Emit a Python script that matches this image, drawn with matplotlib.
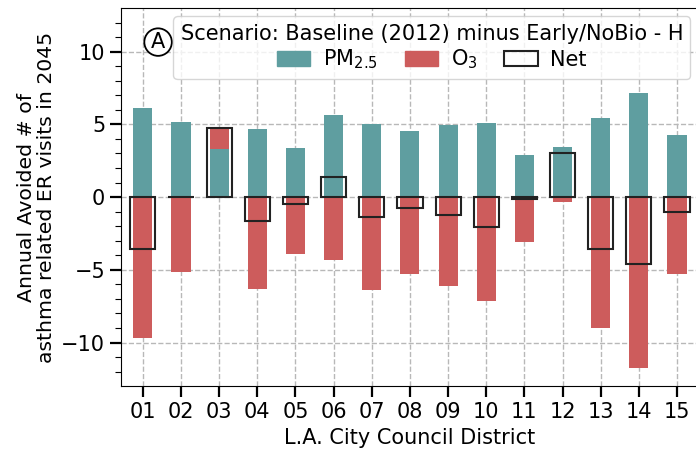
import numpy as np
import matplotlib
matplotlib.use("Agg")
import matplotlib.pyplot as plt
from matplotlib.patches import Patch

# Avoided asthma ER visits by council district (Baseline 2012 minus Early/NoBio - H)
districts = ["01", "02", "03", "04", "05", "06", "07", "08",
             "09", "10", "11", "12", "13", "14", "15"]
pm25 = [6.12, 5.19, 3.29, 4.67, 3.40, 5.66, 5.01, 4.57,
        4.94, 5.12, 2.90, 3.43, 5.43, 7.15, 4.28]
o3 = [-9.68, -5.15, 1.45, -6.30, -3.89, -4.30, -6.41, -5.31,
      -6.14, -7.15, -3.06, -0.37, -8.97, -11.75, -5.29]
scenario = "Scenario: Baseline (2012) minus Early/NoBio - H"

pm25 = np.array(pm25)
o3 = np.array(o3)
net = pm25 + o3
x = np.arange(len(districts))

pm_color = "cadetblue"
o3_color = "indianred"
fs = 15

plt.rcParams["font.family"] = "DejaVu Sans"
plt.rcParams["font.size"] = fs

fig = plt.figure(figsize=(6.96, 4.49), dpi=100)
ax = fig.add_axes([0.174, 0.140, 0.830, 0.842])

ax.set_axisbelow(True)
ax.grid(True, which="major", linestyle="--", color="#b8b8b8", linewidth=1.0)

# PM bars from zero; ozone stacked on top when positive, hanging below zero otherwise
ax.bar(x, pm25, width=0.5, color=pm_color, zorder=2)
o3_bottom = np.where(o3 > 0, pm25, 0)
ax.bar(x, o3, width=0.5, bottom=o3_bottom, color=o3_color, zorder=2)
ax.bar(x, net, width=0.66, fill=False, edgecolor="#222222", linewidth=1.5, zorder=3)

ax.set_xlim(-0.57, 14.57)
ax.set_ylim(-13, 13)
ax.set_xticks(x)
ax.set_xticklabels(districts)
ax.set_yticks([-10, -5, 0, 5, 10])
ax.set_yticks(np.arange(-12, 13, 1), minor=True)
ax.tick_params(axis="both", which="major", length=8, width=1.6, labelsize=fs)
ax.tick_params(axis="y", which="minor", length=4.5, width=0.8)

ax.set_xlabel("L.A. City Council District", fontsize=fs)
ax.set_ylabel("Annual Avoided # of\nasthma related ER visits in 2045", fontsize=14.7,
              linespacing=1.05)

handles = [Patch(color=pm_color, label="PM$_{2.5}$"),
           Patch(color=o3_color, label="O$_3$"),
           Patch(facecolor="none", edgecolor="#222222", linewidth=1.5, label="Net")]
ax.legend(handles=handles, loc="upper right", ncol=3, title=scenario,
          fontsize=fs, title_fontsize=fs, framealpha=0.8,
          borderaxespad=0.4, columnspacing=1.3, handlelength=1.6,
          handletextpad=0.6, borderpad=0.35, labelspacing=0.2)

ax.text(0.064, 0.91, "A", transform=ax.transAxes, ha="center", va="center",
        fontsize=fs, bbox=dict(boxstyle="circle,pad=0.18", facecolor="white",
                               edgecolor="black", linewidth=1.3))

fig.savefig("out.png", dpi=100)
